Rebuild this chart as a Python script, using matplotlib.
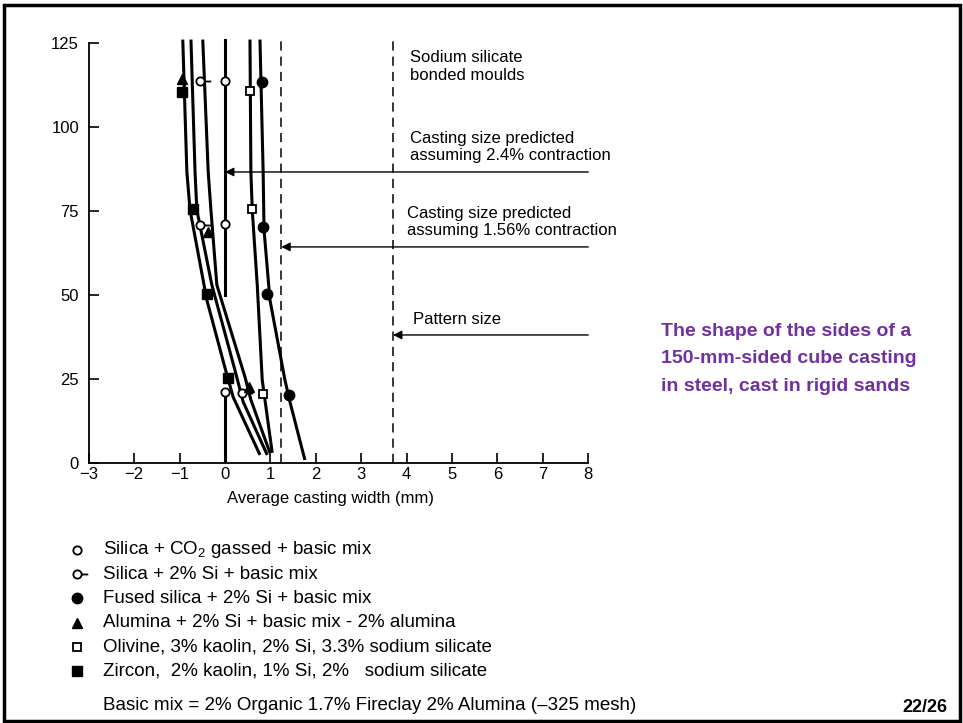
import matplotlib
matplotlib.use('Agg')
import matplotlib.pyplot as plt
from matplotlib.path import Path
from matplotlib.patches import Rectangle
from matplotlib.lines import Line2D

plt.rcParams['font.family'] = ['Liberation Sans', 'DejaVu Sans']
plt.rcParams['mathtext.fontset'] = 'custom'
plt.rcParams['mathtext.rm'] = 'Liberation Sans'

# curves: x = average casting width (mm), y = height (mm)
zircon_line_x = [-0.93, -0.84, -0.77, -0.40, 0.00, 0.18, 0.77]
zircon_line_y = [126.0, 86.6, 75.3, 48.5, 28.3, 19.6, 2.4]
silica_si_line_x = [-0.75, -0.66, -0.62, -0.29, 0.20, 0.40, 0.93]
silica_si_line_y = [126.0, 86.6, 75.3, 53.0, 28.6, 18.2, 2.4]
alumina_line_x = [-0.49, -0.37, -0.31, -0.18, 0.44, 0.57, 0.99]
alumina_line_y = [126.0, 86.6, 75.3, 53.0, 25.6, 18.8, 3.0]
co2_upper_y = [126.0, 50.0]
co2_lower_y = [21.0, 0.0]
olivine_line_x = [0.55, 0.57, 0.60, 0.71, 0.82, 0.88, 1.04]
olivine_line_y = [126.0, 86.6, 75.3, 53.0, 24.7, 18.8, 3.0]
fused_line_x = [0.77, 0.84, 0.86, 0.99, 1.32, 1.43, 1.76]
fused_line_y = [126.0, 86.6, 69.3, 48.5, 24.7, 18.2, 0.9]

# data points
co2_x = [0.0, 0.0, 0.0]
co2_y = [113.8, 71.1, 21.1]
silica_si_x = [-0.55, -0.55, 0.37]
silica_si_y = [113.8, 70.8, 20.8]
fused_x = [0.82, 0.83, 0.92, 1.42]
fused_y = [113.5, 70.3, 50.3, 20.2]
alumina_x = [-0.94, -0.37, 0.53]
alumina_y = [114.2, 68.8, 22.7]
olivine_x = [0.55, 0.59, 0.84]
olivine_y = [110.7, 75.5, 20.5]
zircon_x = [-0.94, -0.71, -0.39, 0.07]
zircon_y = [110.3, 75.5, 50.2, 25.3]

legend_labels = ['Silica + CO$_2$ gassed + basic mix',
                 'Silica + 2% Si + basic mix',
                 'Fused silica + 2% Si + basic mix',
                 'Alumina + 2% Si + basic mix - 2% alumina',
                 'Olivine, 3% kaolin, 2% Si, 3.3% sodium silicate',
                 'Zircon,  2% kaolin, 1% Si, 2%   sodium silicate']

# reference lines
contraction_156 = 1.24
pattern_size = 3.70
arrow_start = 8.0
arrows = [(0.0, 86.6), (contraction_156, 64.3), (pattern_size, 38.1)]

fig = plt.figure(figsize=(9.63, 7.23), dpi=100)
ax = fig.add_axes([0.0922, 0.3596, 0.521, 0.588])

lw = 2.2
for xs, ys in [(zircon_line_x, zircon_line_y), (silica_si_line_x, silica_si_line_y),
               (alumina_line_x, alumina_line_y), (olivine_line_x, olivine_line_y),
               (fused_line_x, fused_line_y)]:
    ax.plot(xs, ys, color='black', lw=lw, solid_capstyle='butt', zorder=2)
ax.plot([0, 0], co2_upper_y, color='black', lw=lw, zorder=2)
ax.plot([0, 0], co2_lower_y, color='black', lw=lw, zorder=2)

# circle with a short tail, as used for the Si series
circ_dash = Path.make_compound_path(Path.unit_circle(),
                                    Path([[1, 0], [2.6, 0]], [Path.MOVETO, Path.LINETO]))

styles = [dict(marker='o', ms=6, mfc='white', mec='black', mew=1.3),
          dict(marker=circ_dash, ms=15.5, mfc='white', mec='black', mew=1.3),
          dict(marker='o', ms=7.5, mfc='black', mec='black'),
          dict(marker='^', ms=6.5, mfc='black', mec='black'),
          dict(marker='s', ms=5.5, mfc='white', mec='black', mew=1.3),
          dict(marker='s', ms=6.5, mfc='black', mec='black')]
series = [(co2_x, co2_y), (silica_si_x, silica_si_y), (fused_x, fused_y),
          (alumina_x, alumina_y), (olivine_x, olivine_y), (zircon_x, zircon_y)]
for (xs, ys), st in zip(series, styles):
    ax.plot(xs, ys, ls='none', zorder=4, **st)

ax.axvline(contraction_156, color='black', lw=1.1, ls=(0, (6, 4)), zorder=1)
ax.axvline(pattern_size, color='black', lw=1.1, ls=(0, (6, 4)), zorder=1)

for tip_x, yy in arrows:
    ax.annotate('', xy=(tip_x, yy), xytext=(arrow_start, yy),
                arrowprops=dict(arrowstyle='-|>', color='black', lw=1.0,
                                mutation_scale=13, shrinkA=0, shrinkB=0))

ax.text(4.07, 118.0, 'Sodium silicate\nbonded moulds', fontsize=12, va='center')
ax.text(4.07, 94.0, 'Casting size predicted\nassuming 2.4% contraction', fontsize=12, va='center')
ax.text(4.00, 71.7, 'Casting size predicted\nassuming 1.56% contraction', fontsize=12, va='center')
ax.text(4.14, 42.6, 'Pattern size', fontsize=12, va='center')

ax.set_xlim(-3, 8.05)
ax.set_ylim(0, 126.5)
ax.set_xticks(range(-3, 9))
ax.set_yticks([0, 25, 50, 75, 100, 125])
ax.set_xticklabels(['\u2212%d' % -v if v < 0 else str(v) for v in range(-3, 9)])
for s in ['top', 'right']:
    ax.spines[s].set_visible(False)
ax.spines['left'].set_bounds(0, 125)
ax.spines['bottom'].set_bounds(-3, 8)
ax.spines['left'].set_linewidth(1.3)
ax.spines['bottom'].set_linewidth(1.3)
ax.tick_params(direction='in', length=7, width=1.2, labelsize=12)
ax.tick_params(axis='y', pad=7)
ax.tick_params(axis='x', pad=3)
ax.set_xlabel('Average casting width (mm)', fontsize=12)
ax.xaxis.set_label_coords(0.481, -0.066)

# key below the plot
for i, (lab, st) in enumerate(zip(legend_labels, styles)):
    yk = 1 - (550 + 24.2 * i) / 723
    fig.add_artist(Line2D([77 / 963], [yk], ls='none', transform=fig.transFigure, **st))
    fig.text(103 / 963, yk, lab, fontsize=13.5, va='center')
fig.text(103 / 963, 1 - 705 / 723, 'Basic mix = 2% Organic 1.7% Fireclay 2% Alumina (\u2013325 mesh)',
         fontsize=13.5, va='center')

fig.text(661 / 963, 1 - 323 / 723,
         'The shape of the sides of a\n150-mm-sided cube casting\nin steel, cast in rigid sands',
         fontsize=14, weight='bold', color='#7030A0', va='top', ha='left', linespacing=1.8)
fig.text(947 / 963, 1 - 707 / 723, '22/26', fontsize=13, weight='bold', ha='right', va='center')

fig.add_artist(Rectangle((4 / 963, 2 / 723), 956 / 963, 716 / 723, transform=fig.transFigure,
                         fill=False, lw=2.5, color='black'))

fig.savefig('out.png', dpi=100)
